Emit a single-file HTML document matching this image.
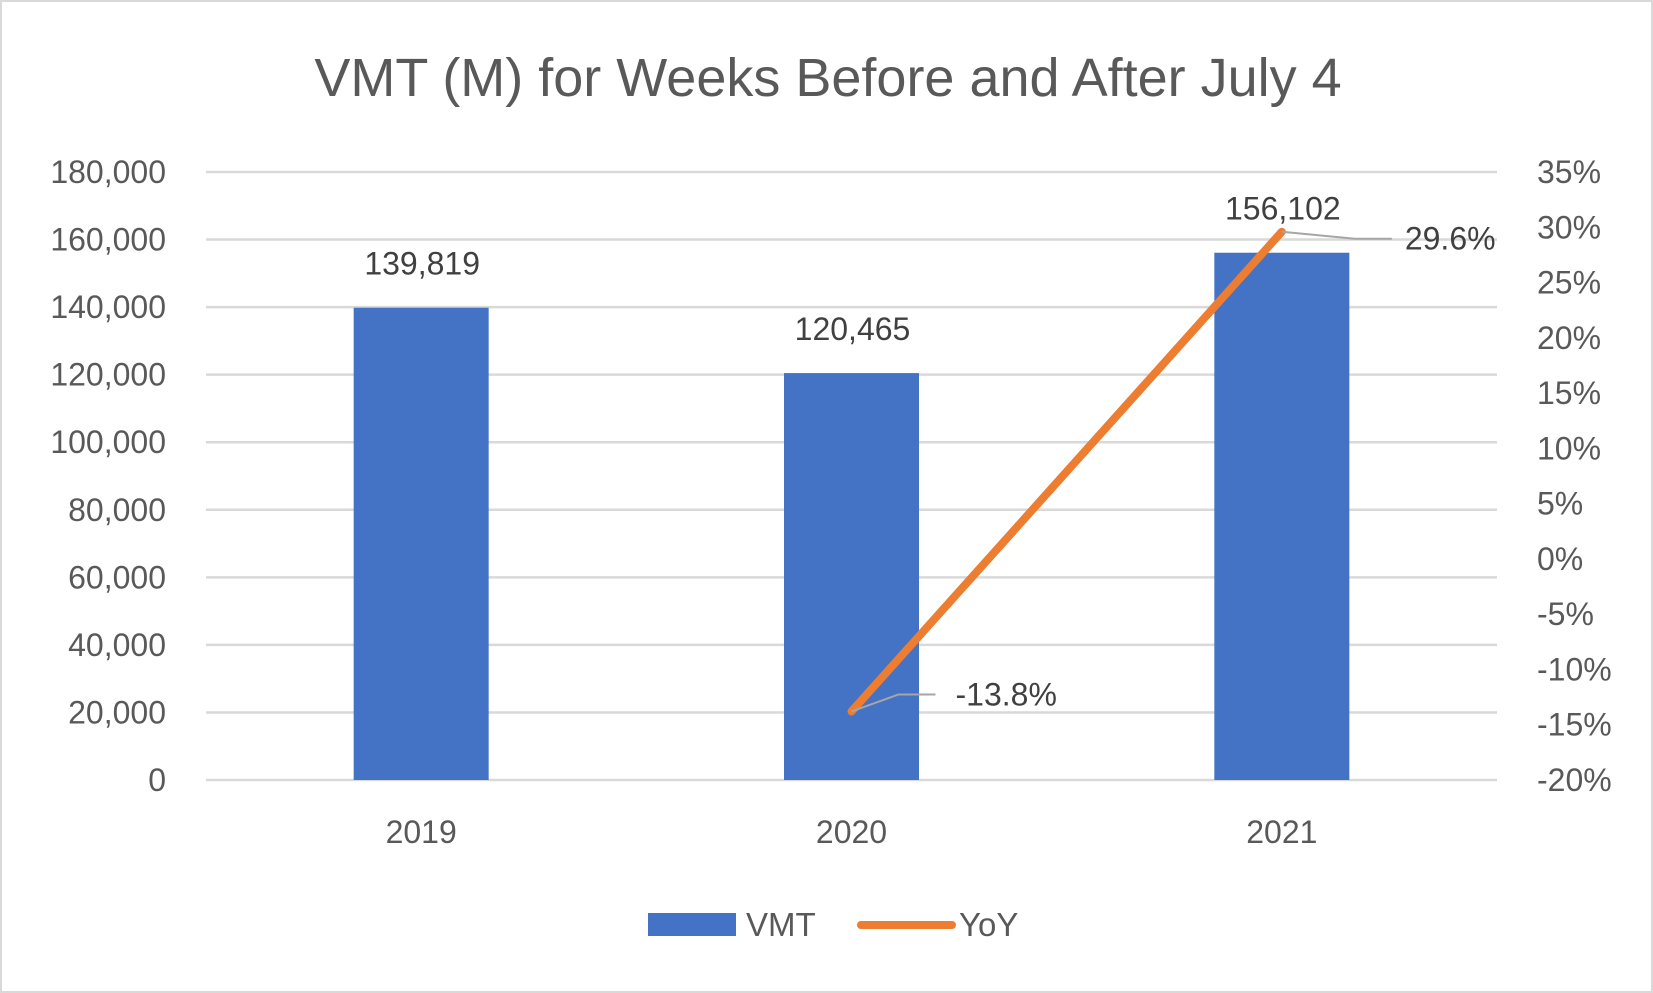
<!DOCTYPE html>
<html><head><meta charset="utf-8"><style>
body{margin:0;background:#fff}
svg{display:block;font-family:"Liberation Sans",sans-serif}
</style></head><body>
<svg id="chart" width="1653" height="993" viewBox="0 0 1653 993">
<rect x="1" y="1" width="1651" height="991" fill="#fff" stroke="#d9d9d9" stroke-width="2"/>
<text x="828" y="96" text-anchor="middle" font-size="54" fill="#595959">VMT (M) for Weeks Before and After July 4</text>
<g id="grid"></g><g id="bars"></g><g id="line"></g><g id="labels"></g>
<g>
<rect x="648" y="913" width="88" height="23" fill="#4472c4"/>
<text x="746" y="936" font-size="33" fill="#595959">VMT</text>
<line x1="861" y1="925" x2="952" y2="925" stroke="#ed7d31" stroke-width="8" stroke-linecap="round"/>
<text x="959" y="936" font-size="33" fill="#595959">YoY</text>
</g>
</svg>
<script>
const categories=["2019","2020","2021"];
const vmtValues=[139819,120465,156102];
const yoyValues=[null,-13.8,29.6];
const leftTicks=[0,20000,40000,60000,80000,100000,120000,140000,160000,180000];
const rightTicks=[-20,-15,-10,-5,0,5,10,15,20,25,30,35];
const NS="http://www.w3.org/2000/svg";
const X0=206,X1=1497,Y0=780,Y1=172;
const yL=v=>Y0-(v-0)/(180000)*(Y0-Y1);
const yR=v=>Y0-(v+20)/55*(Y0-Y1);
const band=(X1-X0)/categories.length;
const xc=i=>X0+band*(i+0.5);
const BW=135;
function mk(tag,attrs,parent,txt){const e=document.createElementNS(NS,tag);for(const k in attrs)e.setAttribute(k,attrs[k]);if(txt!==undefined)e.textContent=txt;document.getElementById(parent).appendChild(e);return e;}
const fmt=v=>v.toLocaleString("en-US");
leftTicks.forEach(t=>{
 const l=mk("line",{x1:X0,x2:X1,y1:yL(t),y2:yL(t),stroke:"#d9d9d9","stroke-width":2.5},"grid");
 
 
 const tx=mk("text",{x:166,y:yL(t)+11,"text-anchor":"end","font-size":32,fill:"#595959"},"labels",fmt(t));
 
 
});
rightTicks.forEach(t=>{
 const tx=mk("text",{x:1537,y:yR(t)+11,"font-size":32,fill:"#595959"},"labels",t+"%");
 
 
});
categories.forEach((c,i)=>{
 const b=mk("rect",{x:xc(i)-BW/2,y:yL(vmtValues[i]),width:BW,height:Y0-yL(vmtValues[i]),fill:"#4472c4"},"bars");
 
 
 const xl=mk("text",{x:xc(i),y:843,"text-anchor":"middle","font-size":32,fill:"#595959"},"labels",c);
 
 
 const dl=mk("text",{x:xc(i)+1,y:yL(vmtValues[i])-33,"text-anchor":"middle","font-size":32,fill:"#404040"},"labels",fmt(vmtValues[i]));
 
 
});
const pts=[];yoyValues.forEach((v,i)=>{if(v!==null)pts.push([xc(i),yR(v),v]);});
const pl=mk("polyline",{points:pts.map(p=>p[0]+","+p[1]).join(" "),fill:"none",stroke:"#ed7d31","stroke-width":8,"stroke-linecap":"round"},"line");


pts.forEach((p,k)=>{
 const lx=p[0]+(k===0?92:118), ly=p[1]+(k===0?-17:7);
 const ld=mk("polyline",{points:`${p[0]},${p[1]} ${lx-45},${ly} ${lx-8},${ly}`,fill:"none",stroke:"#a6a6a6","stroke-width":2},"line");
 
 
 const t=mk("text",{x:lx+(k===0?12:5),y:ly+11,"font-size":32,fill:"#404040"},"labels",p[2].toFixed(1)+"%");
 
 
});
</script>
</body></html>
